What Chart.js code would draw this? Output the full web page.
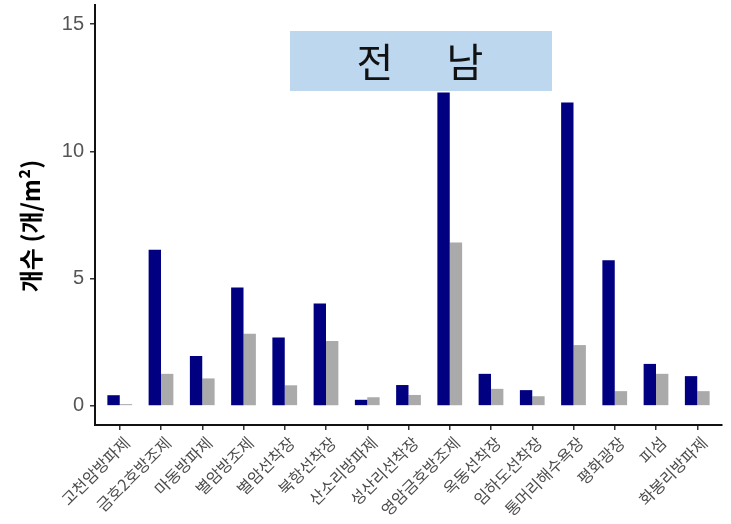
<!DOCTYPE html>
<html><head><meta charset="utf-8">
<script src="https://cdn.jsdelivr.net/npm/chart.js@4.4.1/dist/chart.umd.min.js"></script>
<style>html,body{margin:0;padding:0;background:#fff;}canvas{display:block;}</style>
</head><body>
<canvas id="c" width="731" height="524"></canvas>
<script>
const categories = ['고천암방파제','금호2호방조제','마동방파제','별암방조제','별암선착장','북항선착장','산소리방파제','성산리선착장','영암금호방조제','옥동선착장','임하도선착장','통머리해수욕장','평화광장','피섬','화봉리방파제'];
const blueValues = [0.42, 6.13, 1.96, 4.65, 2.69, 4.02, 0.24, 0.82, 12.31, 1.26, 0.62, 11.92, 5.72, 1.65, 1.17];
const grayValues = [0.07, 1.26, 1.08, 2.83, 0.81, 2.55, 0.34, 0.43, 6.42, 0.67, 0.38, 2.39, 0.58, 1.26, 0.58];
const yTickValues = [0, 5, 10, 15];
const titleChars = ['전', '남'];
const yTitle = '개수 (개/m²)';

const overlay = {
  id: 'overlay',
  afterDraw(chart) {
    const ctx = chart.ctx;
    ctx.save();
    ctx.fillStyle = '#bdd7ee';
    ctx.fillRect(290, 31, 262, 60);
    ctx.fillStyle = '#111';
    ctx.font = '40px "Noto Sans CJK KR"';
    ctx.textAlign = 'center';
    ctx.textBaseline = 'middle';
    ctx.fillText(titleChars[0], 375, 62);
    ctx.fillText(titleChars[1], 465, 62);
    ctx.translate(31, 226);
    ctx.rotate(-Math.PI / 2);
    ctx.font = 'bold 24px "Noto Sans CJK KR"';
    ctx.fillStyle = '#000';
    ctx.fillText(yTitle, 0, 0);
    ctx.restore();
  }
};

new Chart(document.getElementById('c'), {
  type: 'bar',
  data: {
    datasets: [
      { data: blueValues.map((v, i) => ({x: i, y: v})), backgroundColor: '#000080', borderWidth: 0, categoryPercentage: 0.6, barPercentage: 1 },
      { data: grayValues.map((v, i) => ({x: i, y: v})), backgroundColor: '#aaaaaa', borderWidth: 0, categoryPercentage: 0.6, barPercentage: 1 }
    ]
  },
  options: {
    responsive: false,
    animation: false,
    devicePixelRatio: 1,
    layout: { padding: { left: 0, right: 9, top: 5, bottom: 0 } },
    plugins: { legend: { display: false }, tooltip: { enabled: false }, title: { display: false } },
    scales: {
      x: {
        type: 'linear',
        offset: false,
        min: -0.6, max: 14.6,
        afterBuildTicks: s => { s.ticks = categories.map((_, i) => ({value: i})); },
        afterFit: s => { s.height = 99; s.paddingLeft = 0; s.paddingRight = 0; },
        grid: { display: true, offset: false, drawOnChartArea: false, drawTicks: true, tickLength: 5, color: '#333', lineWidth: 1.5 },
        border: { display: true, color: '#111', width: 2 },
        ticks: {
          autoSkip: false, maxRotation: 45, minRotation: 45,
          callback: v => categories[v],
          color: '#4d4d4d', font: { family: '"Noto Sans CJK KR"', size: 16 }, padding: 3, labelOffset: 7
        }
      },
      y: {
        min: -0.75, max: 15.75,
        afterBuildTicks: s => { s.ticks = yTickValues.map(v => ({value: v})); },
        afterFit: s => { s.width = 95; s.paddingTop = 0; s.paddingBottom = 0; },
        grid: { display: true, drawOnChartArea: false, drawTicks: true, tickLength: 5, color: '#333', lineWidth: 1.5 },
        border: { display: true, color: '#111', width: 2 },
        ticks: { color: '#555', font: { family: 'Liberation Sans', size: 20 }, padding: 6 }
      }
    }
  },
  plugins: [overlay]
});
</script>
</body></html>
